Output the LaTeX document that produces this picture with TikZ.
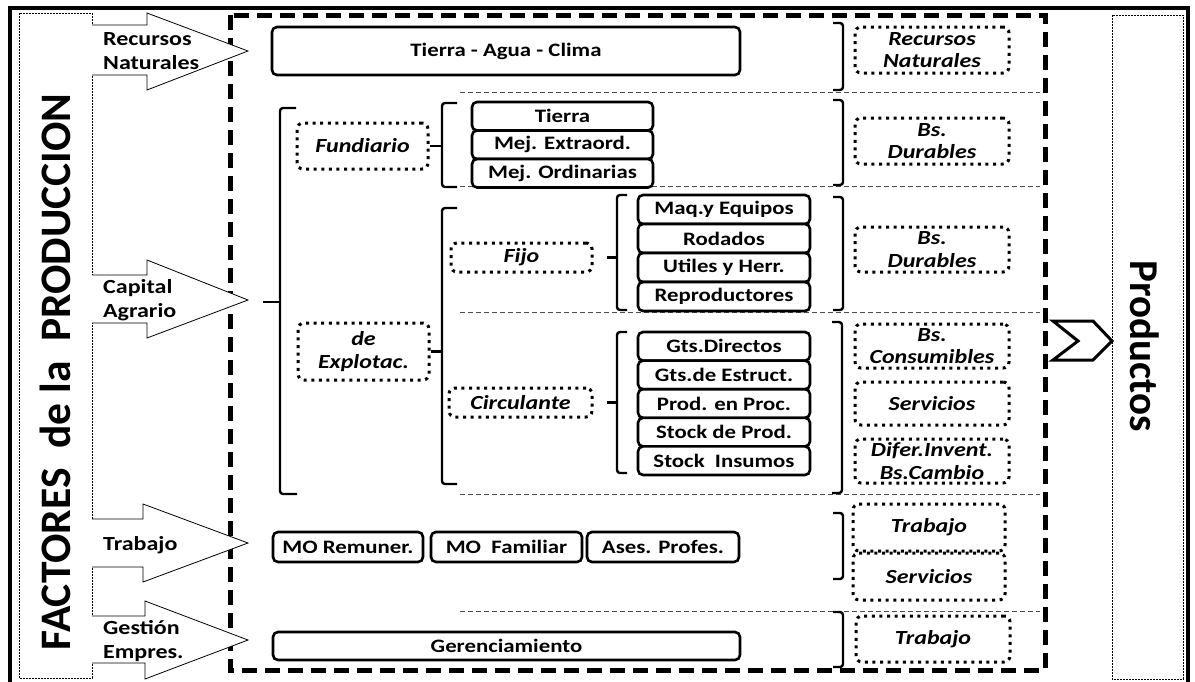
\documentclass[tikz,border=0pt]{standalone}
\usepackage{fontspec}
\setmainfont{Carlito}
\newfontfamily\wf{Carlito}[FakeStretch=1.2]
\usetikzlibrary{calc}
\begin{document}
\begin{tikzpicture}[x=1pt,y=-1pt,
  itembox/.style={draw, line width=2.6pt, rounded corners=5pt, fill=white, inner sep=0pt,
    font=\wf\fontsize{19}{22}\selectfont\bfseries},
  dotbox/.style={draw, line width=3pt, dash pattern=on 3pt off 4.6pt, rounded corners=6pt,
    fill=white, inner sep=0pt, align=center, font=\wf\fontsize{20}{22.5}\selectfont\bfseries\itshape},
  sep/.style={draw=black!70, line width=0.9pt, dash pattern=on 5pt off 3pt},
  brk/.style={line width=2.4pt, rounded corners=3pt},
  inarrow/.style={draw, line width=0.8pt, fill=white},
  arrlabel/.style={anchor=west, align=left, inner sep=0pt, font=\wf\fontsize{20}{24}\selectfont\bfseries},
  thinrect/.style={draw, line width=0.8pt, dash pattern=on 2pt off 1pt}
]
\useasboundingbox (0,0) rectangle (1195,681);
\clip (0,0) rectangle (1195,681);
% outer frame
\draw[line width=4pt] (10,8) rectangle (1188,700);
% side strips
\draw[thinrect] (19,13) rectangle (92,678);
\draw[thinrect] (1112,15) rectangle (1183,679);
\node[rotate=90, anchor=base, inner sep=0pt, font=\fontsize{43.5}{46}\selectfont\bfseries] (factores) at (70,372) {FACTORES\ \ de la\ \ PRODUCCION};
\node[rotate=-90, anchor=base, inner sep=0pt, font=\fontsize{41}{44}\selectfont\bfseries] (productos) at (1130,346) {Productos};
% big dashed frame
\draw[line width=5pt, dash pattern=on 15pt off 8pt] (230,15) rectangle (1045,670);
% separators
\draw[sep] (460,92) -- (1040,92);
\draw[sep] (460,186) -- (1040,186);
\draw[sep] (460,312) -- (1040,312);
\draw[sep] (460,494) -- (1040,494);
\draw[sep] (460,611) -- (1040,611);
% input arrows
\draw[inarrow] (92,25) -- (147,25) -- (147,13) -- (248,51) -- (147,90) -- (147,75) -- (92,75);
\draw[inarrow] (92,275) -- (147,275) -- (147,260) -- (248,300) -- (147,338) -- (147,323) -- (92,323);
\draw[inarrow] (92,519) -- (143,519) -- (143,504) -- (248,543) -- (143,582) -- (143,567) -- (92,567);
\draw[inarrow] (92,616) -- (145,616) -- (145,601) -- (248,640) -- (145,679) -- (145,663) -- (92,663);
\node[arrlabel] (lrn) at (103,51) {Recursos\\Naturales};
\node[arrlabel] (lca) at (103,300) {Capital\\Agrario};
\node[arrlabel] (ltr) at (103,545) {Trabajo};
\node[arrlabel] (lge) at (103,641) {Gestión\\Empres.};
% output chevron
\draw[line width=3pt, fill=white, line join=miter] (1053,321) -- (1093,321) -- (1112,341) -- (1093,360) -- (1053,360) -- (1078,341) -- cycle;
% main boxes
\node[itembox, minimum width=468pt, minimum height=48pt] (tac) at (506,51) {Tierra - Agua - Clima};
% fundiario items
\node[itembox, minimum width=181pt, minimum height=28.5pt] (f1) at (562.5,116.25) {Tierra};
\node[itembox, minimum width=181pt, minimum height=28.5pt] (f2) at (562.5,144.75) {Mej. Extraord.};
\node[itembox, minimum width=181pt, minimum height=28.5pt] (f3) at (562.5,173.25) {Mej. Ordinarias};
% fijo items
\node[itembox, minimum width=172pt, minimum height=29pt] (j1) at (724,209.5) {Maq.y Equipos};
\node[itembox, minimum width=172pt, minimum height=29pt] (j2) at (724,238.5) {Rodados};
\node[itembox, minimum width=172pt, minimum height=29pt] (j3) at (724,267.5) {Utiles y Herr.};
\node[itembox, minimum width=172pt, minimum height=29pt] (j4) at (724,296.5) {Reproductores};
% circulante items
\node[itembox, minimum width=172pt, minimum height=28.6pt] (c1) at (724,346.3) {Gts.Directos};
\node[itembox, minimum width=172pt, minimum height=28.6pt] (c2) at (724,374.9) {Gts.de Estruct.};
\node[itembox, minimum width=172pt, minimum height=28.6pt] (c3) at (724,403.5) {Prod. en Proc.};
\node[itembox, minimum width=172pt, minimum height=28.6pt] (c4) at (724,432.1) {Stock de Prod.};
\node[itembox, minimum width=172pt, minimum height=28.6pt] (c5) at (724,460.7) {Stock\ \ Insumos};
% trabajo row
\node[itembox, minimum width=150pt, minimum height=30pt] (t1) at (348,547) {MO Remuner.};
\node[itembox, minimum width=151pt, minimum height=30pt] (t2) at (506.5,547) {MO\ \ Familiar};
\node[itembox, minimum width=152pt, minimum height=30pt] (t3) at (663,547) {Ases. Profes.};
\node[itembox, minimum width=467pt, minimum height=28pt] (ger) at (506.5,646) {Gerenciamiento};
% left dotted boxes
\node[dotbox, minimum width=131pt, minimum height=46pt] (fund) at (362.5,146) {Fundiario};
\node[dotbox, minimum width=131pt, minimum height=57pt] (expl) at (363.5,351.5) {de\\Explotac.};
\node[dotbox, minimum width=141pt, minimum height=29pt] (fijo) at (521.5,257.5) {Fijo};
\node[dotbox, minimum width=143pt, minimum height=29pt] (circ) at (520.5,402.5) {Circulante};
% right dotted boxes
\node[dotbox, minimum width=154pt, minimum height=46pt] (rrn) at (932,50) {Recursos\\Naturales};
\node[dotbox, minimum width=154pt, minimum height=46pt] (rbd1) at (932,141) {Bs.\\Durables};
\node[dotbox, minimum width=154pt, minimum height=45pt] (rbd2) at (932,249.5) {Bs.\\Durables};
\node[dotbox, minimum width=154pt, minimum height=44pt] (rbc) at (932,346) {Bs.\\Consumibles};
\node[dotbox, minimum width=154pt, minimum height=43pt] (rsv) at (932,403.5) {Servicios};
\node[dotbox, minimum width=154pt, minimum height=44pt] (rdi) at (932,461) {Difer.Invent.\\Bs.Cambio};
\node[dotbox, minimum width=152pt, minimum height=47pt] (rtr) at (929,527.5) {Trabajo};
\node[dotbox, minimum width=152pt, minimum height=47pt] (rsv2) at (929,576.5) {Servicios};
\node[dotbox, minimum width=154pt, minimum height=46pt] (rtr2) at (933,639) {Trabajo};
% left brackets
\draw[brk] (296,108) -- (280,108) -- (280,494) -- (297,494);
\draw[brk] (263,302) -- (280,302);
\draw[brk] (457,103) -- (442,103) -- (442,187) -- (457,187);
\draw[brk] (fund.east) -- (442,146);
\draw[brk] (457,208) -- (442,208) -- (442,484) -- (457,484);
\draw[brk] (expl.east) -- (442,351.5);
\draw[brk] (627,195) -- (617,195) -- (617,310) -- (627,310);
\draw[brk] (fijo.east -| 607,0) -- (fijo.east -| 617,0);
\draw[brk] (627,332) -- (617,332) -- (617,473) -- (627,473);
\draw[brk] (circ.east -| 607,0) -- (circ.east -| 617,0);
% right brackets
\draw[brk] (833,23) -- (843,23) -- (843,90) -- (833,90);
\draw[brk] (833,100) -- (843,100) -- (843,185) -- (833,185);
\draw[brk] (833,197) -- (843,197) -- (843,310) -- (833,310);
\draw[brk] (832,322) -- (842,322) -- (842,493) -- (832,493);
\draw[brk] (833,513) -- (843,513) -- (843,579) -- (833,579);
\draw[brk] (833,612) -- (843,612) -- (843,667) -- (833,667);
\end{tikzpicture}
\end{document}
